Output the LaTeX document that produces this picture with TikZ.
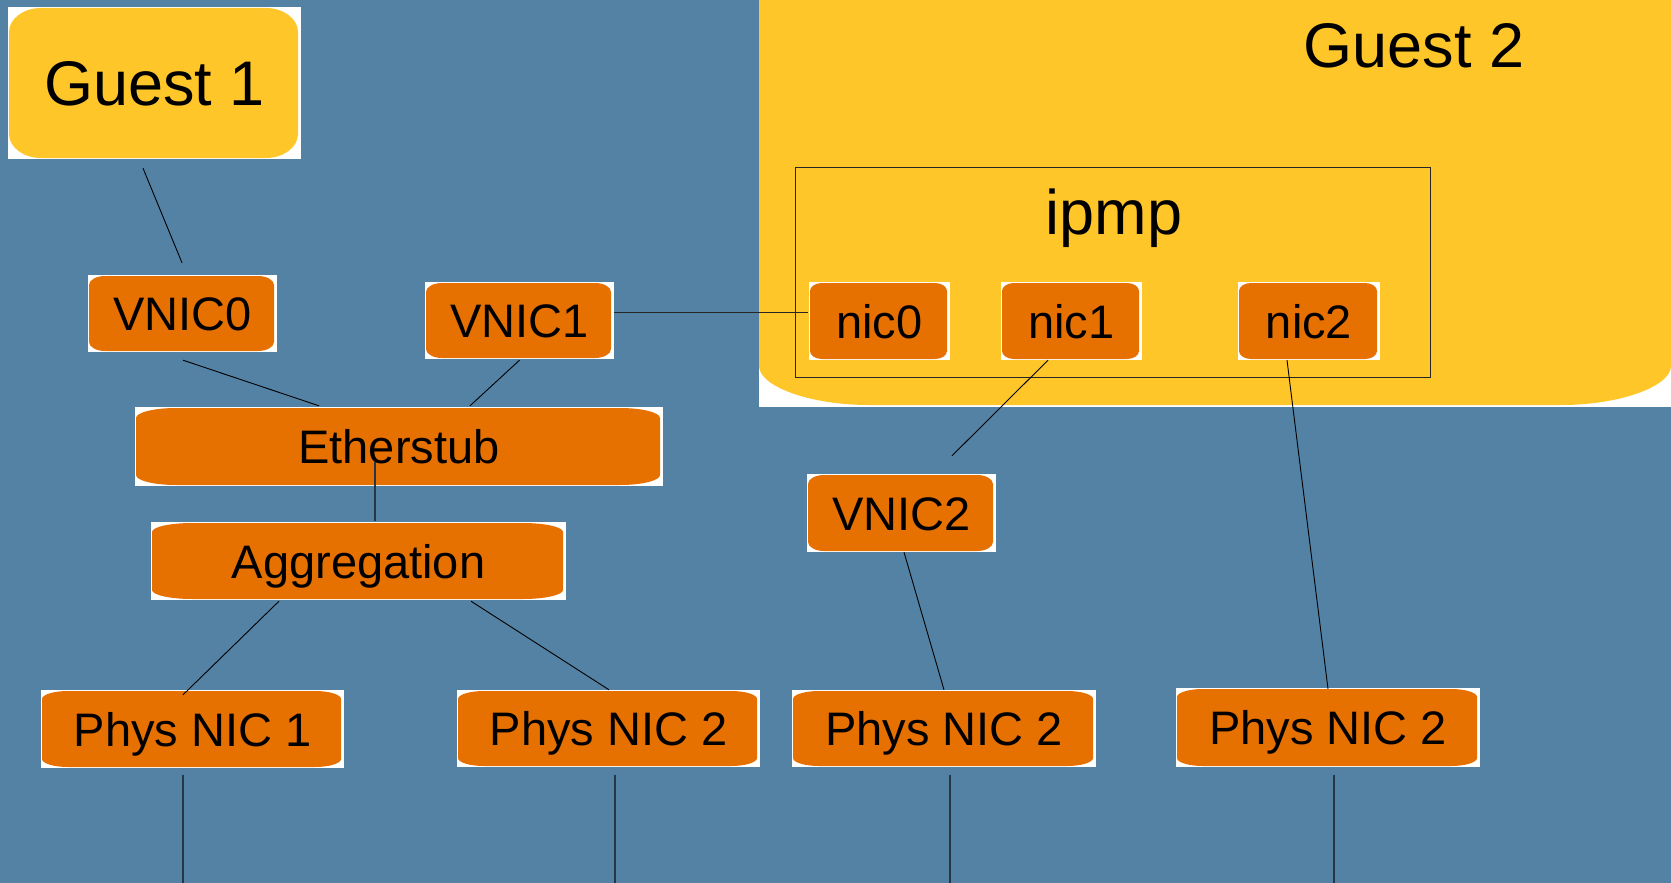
\documentclass[tikz,border=0pt]{standalone}
\usepackage{fontspec}
\setmainfont{Liberation Sans}
\definecolor{bgblue}{RGB}{84,130,164}
\definecolor{nodeorange}{RGB}{230,112,0}
\definecolor{guestyellow}{RGB}{255,198,41}
\definecolor{darkline}{RGB}{35,55,72}
\newcommand\ebfill[3]{%
 \pgfpointanchor{path picture bounding box}{south west}\pgfgetlastxy\ebxa\ebya
 \pgfpointanchor{path picture bounding box}{north east}\pgfgetlastxy\ebxb\ebyb
 \fill[#1] (\ebxa+1pt,\ebya+1pt+#3) -- (\ebxa+1pt,\ebyb-1pt-#3)
   .. controls (\ebxa+1pt,\ebyb-1pt-0.45*#3) and (\ebxa+1pt+0.45*#2,\ebyb-1pt) .. (\ebxa+1pt+#2,\ebyb-1pt)
   -- (\ebxb-3pt-#2,\ebyb-1pt)
   .. controls (\ebxb-3pt-0.45*#2,\ebyb-1pt) and (\ebxb-3pt,\ebyb-1pt-0.45*#3) .. (\ebxb-3pt,\ebyb-1pt-#3)
   -- (\ebxb-3pt,\ebya+1pt+#3)
   .. controls (\ebxb-3pt,\ebya+1pt+0.45*#3) and (\ebxb-3pt-0.45*#2,\ebya+1pt) .. (\ebxb-3pt-#2,\ebya+1pt)
   -- (\ebxa+1pt+#2,\ebya+1pt)
   .. controls (\ebxa+1pt+0.45*#2,\ebya+1pt) and (\ebxa+1pt,\ebya+1pt+0.45*#3) .. (\ebxa+1pt,\ebya+1pt+#3) -- cycle;}
\tikzset{
  obox/.style n args={4}{rectangle, fill=white, inner sep=0pt,
    minimum width=#1, minimum height=#2, text height=34pt, text depth=0pt,
    font=\fontsize{47}{56}\selectfont,
    path picture={\ebfill{nodeorange}{#3}{#4}}},
  gbox/.style={rectangle, fill=white, inner sep=0pt,
    minimum width=293pt, minimum height=152pt, text height=45pt, text depth=0pt,
    font=\fontsize{63}{72}\selectfont,
    path picture={\ebfill{guestyellow}{32pt}{24pt}}},
  biglabel/.style={anchor=base, inner sep=0pt, font=\fontsize{63}{72}\selectfont},
  conn/.style={draw=black, line width=0.9pt},
  dconn/.style={draw=darkline, line width=1.4pt},
  frame/.style={draw=black!85, line width=1pt, inner sep=0pt}
}
\begin{document}
\begin{tikzpicture}[x=1pt,y=-1pt]
\useasboundingbox (0,0) rectangle (1671,883);
\fill[bgblue] (0,0) rectangle (1671,883);
% Guest 2 region
\fill[white] (759,0) rectangle (1671,407);
\fill[guestyellow] (759,0) -- (1671,0) -- (1671,366)
  .. controls (1671,386) and (1621,405) .. (1561,405) -- (869,405)
  .. controls (809,405) and (759,386) .. (759,366) -- cycle;
\node[biglabel] (g2lbl) at (1414,67) {Guest 2};
\node[frame, minimum width=635pt, minimum height=210pt] (ipmp) at (1112.5,272) {};
\node[biglabel] (ipmplbl) at (1114,234) {ipmp};

% nodes
\node[gbox] (guest1) at (154.5,83) {Guest 1};
\node[obox={189pt}{77pt}{16pt}{9pt}] (vnic0) at (182.5,313.5) {VNIC0};
\node[obox={189pt}{77pt}{16pt}{9pt}] (vnic1) at (519.5,320.5) {VNIC1};
\node[obox={141pt}{78pt}{12pt}{8pt}] (nic0) at (879.5,321) {nic0};
\node[obox={141pt}{78pt}{12pt}{8pt}] (nic1) at (1071.5,321) {nic1};
\node[obox={142pt}{78pt}{12pt}{8pt}] (nic2) at (1309,321) {nic2};
\node[obox={528pt}{79pt}{40pt}{10pt}] (etherstub) at (399,446.5) {Etherstub};
\node[obox={415pt}{78pt}{40pt}{9pt}] (aggr) at (358.5,561) {Aggregation};
\node[obox={189pt}{78pt}{16pt}{9pt}] (vnic2) at (901.5,513) {VNIC2};
\node[obox={303pt}{78pt}{26pt}{8pt}] (phys1) at (192.5,729) {Phys NIC 1};
\node[obox={303pt}{77pt}{26pt}{8pt}] (phys2a) at (608.5,728.5) {Phys NIC 2};
\node[obox={304pt}{77pt}{26pt}{8pt}] (phys2b) at (944,728.5) {Phys NIC 2};
\node[obox={304pt}{79pt}{26pt}{8pt}] (phys2c) at (1328,727.5) {Phys NIC 2};

% connectors
\draw[conn] ([shift={(-11.5,9)}]guest1.south) -- ([shift={(-0.5,-12)}]vnic0.north);
\draw[conn] ([shift={(0.5,8)}]vnic0.south) -- ([shift={(-80,-1)}]etherstub.north);
\draw[conn] ([shift={(0,1)}]vnic1.south) -- ([shift={(71,-1)}]etherstub.north);
\draw[conn, draw=black!85] ([shift={(0,-8.5)}]vnic1.east) -- ([shift={(-1,-9)}]nic0.west);
\draw[dconn] ([shift={(-24,15.5)}]etherstub.center) -- ([shift={(16.5,-1)}]aggr.north);
\draw[conn] ([shift={(-79.5,1)}]aggr.south) -- ([shift={(-9.5,5)}]phys1.north);
\draw[conn] ([shift={(112.5,1)}]aggr.south) -- ([shift={(0.5,0)}]phys2a.north);
\draw[conn] ([shift={(-23.5,0)}]nic1.south) -- ([shift={(50.5,-18)}]vnic2.north);
\draw[conn] ([shift={(2.5,0)}]vnic2.south) -- (phys2b.north);
\draw[conn] ([shift={(-22,0)}]nic2.south) -- ([shift={(0,1)}]phys2c.north);
\draw[dconn] ([shift={(-9.5,7)}]phys1.south) -- +(0,110);
\draw[dconn] ([shift={(6.5,8)}]phys2a.south) -- +(0,110);
\draw[dconn] ([shift={(6,8)}]phys2b.south) -- +(0,110);
\draw[dconn] ([shift={(6,8)}]phys2c.south) -- +(0,110);
\end{tikzpicture}
\end{document}
